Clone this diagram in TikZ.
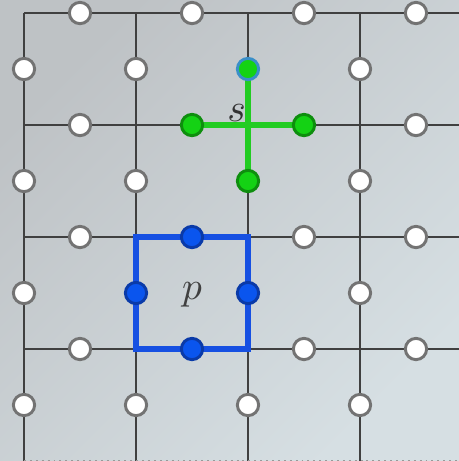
\documentclass[tikz,border=0pt]{standalone}
\begin{document}
\begin{tikzpicture}[x=1cm,y=-1cm,
  gridline/.style={draw=black!75,line width=0.55pt},
  site/.style={circle,inner sep=0pt,minimum size=0.19cm,fill=white,draw=black!55,line width=0.75pt},
  gsite/.style={site,fill=gfill,draw=gdraw},
  bsite/.style={site,fill=bfill,draw=bdraw},
  gline/.style={draw=gln,line width=1.3pt},
  bline/.style={draw=bln,line width=1.3pt}]
\definecolor{bgA}{HTML}{BEC2C5}
\definecolor{bgD}{HTML}{D6DFE3}
\definecolor{gfill}{HTML}{14D214}
\definecolor{gdraw}{HTML}{0E8E0E}
\definecolor{gln}{HTML}{22CC22}
\definecolor{bfill}{HTML}{0A55EE}
\definecolor{bdraw}{HTML}{0A3AA8}
\definecolor{bln}{HTML}{1650E2}
\definecolor{cydraw}{HTML}{3A8FC8}
\useasboundingbox (0,0) rectangle (4.0982,4.1161);
\shade[top color=bgA,bottom color=bgD,shading angle=45] (0,0) rectangle (4.0982,4.1161);
% vertices
\foreach \i in {0,...,4}{\foreach \j in {0,...,4}{
  \coordinate (v\i\j) at ({0.2143+\i},{0.1161+\j});}}
\foreach \j in {0,...,3}{\coordinate (e\j) at (4.0982,{0.1161+\j});}
% grid
\foreach \j in {0,...,3}{\draw[gridline] (v0\j) -- (e\j);}
\foreach \i in {0,...,3}{\draw[gridline] (v\i0) -- (v\i4);}
\coordinate (eb) at (4.0982,4.1161);
\draw[draw=black!40,densely dotted,line width=0.5pt] (v04) -- (eb);
% coloured lines
\coordinate (gtc) at ({0.2143+2},{0.1161+0.5});
\coordinate (gbc) at ({0.2143+2},{0.1161+1.5});
\coordinate (glc) at ({0.2143+1.5},{0.1161+1});
\coordinate (grc) at ({0.2143+2.5},{0.1161+1});
\draw[gline] (gtc) -- (gbc);
\draw[gline] (glc) -- (grc);
\draw[bline] (v12) -- (v22) -- (v23) -- (v13) -- cycle;
% coloured nodes
\node[gsite,draw=cydraw] (gt) at (gtc) {};
\node[gsite] (gb) at (gbc) {};
\node[gsite] (gl) at (glc) {};
\node[gsite] (gr) at (grc) {};
\node[bsite] (bt) at ({0.2143+1.5},{0.1161+2}) {};
\node[bsite] (bb) at ({0.2143+1.5},{0.1161+3}) {};
\node[bsite] (bl) at ({0.2143+1},{0.1161+2.5}) {};
\node[bsite] (br) at ({0.2143+2},{0.1161+2.5}) {};
% white sites
\foreach \i/\j in {0/0,1/0,2/0,3/0,0/1,3/1,0/2,2/2,3/2,0/3,2/3,3/3}{
  \node[site] (h\i\j) at ({0.2143+\i+0.5},{0.1161+\j}) {};}
\foreach \i/\j in {0/0,1/0,3/0,0/1,1/1,3/1,0/2,3/2,0/3,1/3,2/3,3/3}{
  \node[site] (s\i\j) at ({0.2143+\i},{0.1161+\j+0.5}) {};}
% labels
\node[text=black!80,inner sep=0pt] (ls) at (2.112,1.01) {$s$};
\node[text=black!75,inner sep=0pt] (lp) at (1.714,2.63) {$p$};
\end{tikzpicture}
\end{document}
